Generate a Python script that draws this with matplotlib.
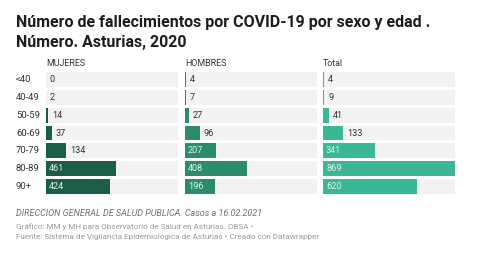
import matplotlib.pyplot as plt

plt.rcParams['font.family'] = ['Roboto', 'DejaVu Sans']

ages = ['<40', '40-49', '50-59', '60-69', '70-79', '80-89', '90+']
mujeres = [0, 2, 14, 37, 134, 461, 424]
hombres = [4, 7, 27, 96, 207, 408, 196]
total = [4, 9, 41, 133, 341, 869, 620]

panels = [('MUJERES', mujeres, '#1b5e45'),
          ('HOMBRES', hombres, '#2a8c6d'),
          ('Total', total, '#3ab795')]

W, H = 480, 270
fig = plt.figure(figsize=(4.8, 2.7), dpi=100)
fig.patch.set_facecolor('white')

fig.text(16/W, 1 - 22/H, 'Número de fallecimientos por COVID-19 por sexo y edad .',
         fontsize=11.5, fontweight='bold', color='#1d1d1d', va='center')
fig.text(16/W, 1 - 42/H, 'Número. Asturias, 2020',
         fontsize=11.5, fontweight='bold', color='#1d1d1d', va='center')

xmax = 869
lefts = [46, 185, 323]
pw = 132
top, bot = 71, 195
row_h = (bot - top) / 7

for i, a in enumerate(ages):
    yc = top + row_h * (i + 0.5)
    fig.text(16/W, 1 - yc/H, a, fontsize=6.8, color='#333333', va='center')

for (name, vals, col), x0 in zip(panels, lefts):
    ax = fig.add_axes([x0/W, 1 - bot/H, pw/W, (bot - top)/H])
    ax.set_xlim(0, xmax)
    ax.set_ylim(6.5, -0.5)
    ax.axis('off')
    ys = range(len(ages))
    ax.barh(ys, [xmax]*len(ages), height=0.84, color='#f2f2f2', lw=0)
    ax.barh(ys, vals, height=0.84, color=col, lw=0)
    for y, v in zip(ys, vals):
        if v > 180:
            ax.text(20, y, str(v), fontsize=6.6, color='#dff2ea', va='center')
        else:
            ax.text(v + 25, y, str(v), fontsize=6.6, color='#333333', va='center')
    fig.text(x0/W, 1 - 63/H, name, fontsize=6.4, color='#333333', va='center')

fig.text(16/W, 1 - 214/H, 'DIRECCION GENERAL DE SALUD PUBLICA. Casos a 16.02.2021',
         fontsize=6.5, style='italic', color='#6f6f6f', va='center')
fig.text(16/W, 1 - 227/H, 'Gráfico: MM y MH para Observatorio de Salud en Asturias. OBSA •',
         fontsize=5.9, color='#9a9a9a', va='center')
fig.text(16/W, 1 - 237/H, 'Fuente: Sistema de Vigilancia Epidemiológica de Asturias • Creado con Datawrapper',
         fontsize=5.9, color='#9a9a9a', va='center')

fig.savefig('out.png', dpi=100)
